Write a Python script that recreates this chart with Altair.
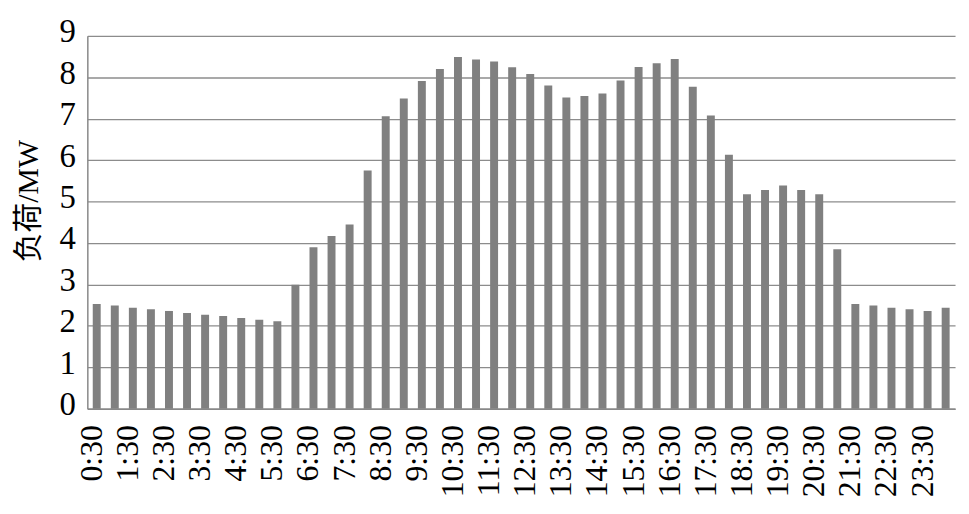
import altair as alt
import pandas as pd

times = ["0:30", "1:00", "1:30", "2:00", "2:30", "3:00", "3:30", "4:00",
         "4:30", "5:00", "5:30", "6:00", "6:30", "7:00", "7:30", "8:00",
         "8:30", "9:00", "9:30", "10:00", "10:30", "11:00", "11:30", "12:00",
         "12:30", "13:00", "13:30", "14:00", "14:30", "15:00", "15:30", "16:00",
         "16:30", "17:00", "17:30", "18:00", "18:30", "19:00", "19:30", "20:00",
         "20:30", "21:00", "21:30", "22:00", "22:30", "23:00", "23:30", "24:00"]

loads = [2.53, 2.49, 2.44, 2.40, 2.36, 2.31, 2.27, 2.24, 2.19, 2.15, 2.11, 2.99,
         3.90, 4.17, 4.45, 5.75, 7.06, 7.49, 7.91, 8.20, 8.49, 8.43, 8.38, 8.24,
         8.08, 7.80, 7.51, 7.55, 7.61, 7.92, 8.25, 8.34, 8.44, 7.77, 7.08, 6.13,
         5.18, 5.28, 5.39, 5.28, 5.18, 3.85, 2.53, 2.49, 2.44, 2.40, 2.36, 2.44]

x_tick_labels = ["0:30", "1:30", "2:30", "3:30", "4:30", "5:30", "6:30", "7:30",
                 "8:30", "9:30", "10:30", "11:30", "12:30", "13:30", "14:30",
                 "15:30", "16:30", "17:30", "18:30", "19:30", "20:30", "21:30",
                 "22:30", "23:30"]

y_ticks = [0, 1, 2, 3, 4, 5, 6, 7, 8, 9]

df = pd.DataFrame({"time": times, "load": loads})

serif = "Liberation Serif, Noto Sans CJK SC"

chart = alt.Chart(df).mark_bar(color="#808080").encode(
    x=alt.X(
        "time:N",
        sort=times,
        scale=alt.Scale(paddingInner=0.56, paddingOuter=0.3),
        axis=alt.Axis(
            values=x_tick_labels,
            labelAngle=270,
            labelFont=serif,
            labelFontSize=32,
            labelColor="black",
            labelPadding=16,
            labelOffset=-5,
            labelOverlap=False,
            ticks=False,
            domainColor="#888888",
            domainWidth=1.5,
            grid=False,
            title=None,
        ),
    ),
    y=alt.Y(
        "load:Q",
        scale=alt.Scale(domain=[0, 9], nice=False),
        axis=alt.Axis(
            values=y_ticks,
            labelFont=serif,
            labelFontSize=33,
            labelColor="black",
            labelPadding=12,
            labelOffset=-4,
            ticks=False,
            domainColor="#888888",
            domainWidth=1.5,
            gridColor="#8c8c8c",
            gridWidth=1.3,
            title="负荷/MW",
            titleFont=serif,
            titleFontSize=30,
            titleFontWeight="normal",
            titleColor="black",
            titleAngle=270,
            titleAlign="center",
            titleBaseline="middle",
            titleX=-59,
            titleY=166,
        ),
    ),
).properties(
    width=875,
    height=376,
    autosize=alt.AutoSizeParams(type="none"),
    padding={"left": 80, "top": 26, "right": 6, "bottom": 100},
).configure_view(stroke=None)

chart.save("out.html", embed_options={"renderer": "svg", "actions": False})
